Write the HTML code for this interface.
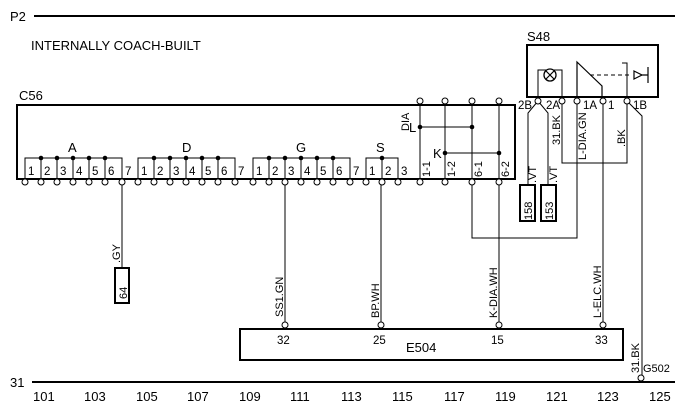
<!DOCTYPE html>
<html><head><style>
html,body{margin:0;padding:0;background:#fff;}
svg{display:block;}
text{font-family:"Liberation Sans",sans-serif;fill:#000;}
</style></head><body>
<svg width="675" height="408" viewBox="0 0 675 408" xmlns="http://www.w3.org/2000/svg">
<g stroke="#000" fill="none">
<line x1="34" y1="16" x2="675" y2="16" stroke-width="2"/>
<line x1="32" y1="382" x2="675" y2="382" stroke-width="2"/>
<rect x="17" y="105" width="498" height="74" stroke-width="2"/>
<path d="M25,179V158H122V179 M41,158V179 M57,158V179 M73,158V179 M89,158V179 M105,158V179" stroke-width="1"/>
<path d="M138,179V158H235V179 M154,158V179 M170,158V179 M186,158V179 M202,158V179 M218,158V179" stroke-width="1"/>
<path d="M253,179V158H350V179 M269,158V179 M285,158V179 M301,158V179 M317,158V179 M333,158V179" stroke-width="1"/>
<path d="M366,179V158H398V179 M382,158V179" stroke-width="1"/>
<path d="M420,101V179 M445,101V179 M472,101V179 M499,101V179 M420,127H472 M445,153H499" stroke-width="1"/>
<path d="M122,182V268 M285,182V325 M381,182V325 M499,182V325 M472,182V238H577V101 M603,101V325 M562,101V163H627V101 M538,101L528,113V185 M538,101L548,113V185 M627,101L642,116V377" stroke-width="1"/>
<rect x="115" y="268" width="14" height="35" stroke-width="2"/>
<rect x="520" y="185" width="15" height="36" stroke-width="2"/>
<rect x="541" y="185" width="15" height="36" stroke-width="2"/>
<rect x="240" y="329" width="383" height="31" stroke-width="2"/>
<rect x="527" y="45" width="131" height="52" stroke-width="2"/>
<path d="M538,97V70H562V97" stroke-width="1"/>
<circle cx="550" cy="75" r="6" fill="#fff" stroke-width="1.3"/>
<path d="M546,71L554,79M554,71L546,79" stroke-width="1.2"/>
<path d="M577,101V62L602,86V101" stroke-width="1.2"/>
<path d="M590,75H631" stroke-dasharray="4,3" stroke-width="1"/>
<path d="M622,63H627V101" stroke-width="1"/>
<path d="M634,71L642,75L634,79Z M642,75H648 M648,67V83" stroke-width="1.2"/>
</g>
<g fill="#000">
<circle cx="41" cy="158" r="2.3"/><circle cx="57" cy="158" r="2.3"/><circle cx="73" cy="158" r="2.3"/><circle cx="89" cy="158" r="2.3"/><circle cx="105" cy="158" r="2.3"/>
<circle cx="154" cy="158" r="2.3"/><circle cx="170" cy="158" r="2.3"/><circle cx="186" cy="158" r="2.3"/><circle cx="202" cy="158" r="2.3"/><circle cx="218" cy="158" r="2.3"/>
<circle cx="269" cy="158" r="2.3"/><circle cx="285" cy="158" r="2.3"/><circle cx="301" cy="158" r="2.3"/><circle cx="317" cy="158" r="2.3"/><circle cx="333" cy="158" r="2.3"/>
<circle cx="382" cy="158" r="2.3"/>
<circle cx="420" cy="127" r="2.3"/><circle cx="472" cy="127" r="2.3"/><circle cx="445" cy="153" r="2.3"/><circle cx="499" cy="153" r="2.3"/>
</g>
<g fill="#fff" stroke="#000" stroke-width="1">
<circle cx="25" cy="182" r="3"/><circle cx="41" cy="182" r="3"/><circle cx="57" cy="182" r="3"/><circle cx="73" cy="182" r="3"/><circle cx="89" cy="182" r="3"/><circle cx="105" cy="182" r="3"/><circle cx="122" cy="182" r="3"/>
<circle cx="138" cy="182" r="3"/><circle cx="154" cy="182" r="3"/><circle cx="170" cy="182" r="3"/><circle cx="186" cy="182" r="3"/><circle cx="202" cy="182" r="3"/><circle cx="218" cy="182" r="3"/><circle cx="235" cy="182" r="3"/>
<circle cx="253" cy="182" r="3"/><circle cx="269" cy="182" r="3"/><circle cx="285" cy="182" r="3"/><circle cx="301" cy="182" r="3"/><circle cx="317" cy="182" r="3"/><circle cx="333" cy="182" r="3"/><circle cx="350" cy="182" r="3"/>
<circle cx="366" cy="182" r="3"/><circle cx="382" cy="182" r="3"/><circle cx="398" cy="182" r="3"/>
<circle cx="420" cy="182" r="3"/><circle cx="445" cy="182" r="3"/><circle cx="472" cy="182" r="3"/><circle cx="499" cy="182" r="3"/>
<circle cx="420" cy="101" r="3"/><circle cx="445" cy="101" r="3"/><circle cx="472" cy="101" r="3"/><circle cx="499" cy="101" r="3"/>
<circle cx="538" cy="101" r="3"/><circle cx="562" cy="101" r="3"/><circle cx="577" cy="101" r="3"/><circle cx="603" cy="101" r="3"/><circle cx="627" cy="101" r="3"/>
<circle cx="285" cy="325" r="3"/><circle cx="381" cy="325" r="3"/><circle cx="499" cy="325" r="3"/><circle cx="603" cy="325" r="3"/>
<circle cx="641" cy="378" r="3"/>
</g>
<g font-size="13">
<text x="10" y="21">P2</text>
<text x="31" y="50">INTERNALLY COACH-BUILT</text>
<text x="19" y="100">C56</text>
<text x="527" y="41">S48</text>
<text x="10" y="387">31</text>
<text x="68" y="152">A</text><text x="182" y="152">D</text><text x="296" y="152">G</text><text x="376" y="152">S</text>
<text x="409" y="132">L</text><text x="433" y="158">K</text>
</g>
<g font-size="11.5">
<text x="28" y="175">1</text><text x="44" y="175">2</text><text x="60" y="175">3</text><text x="76" y="175">4</text><text x="92" y="175">5</text><text x="108" y="175">6</text><text x="125" y="175">7</text>
<text x="141" y="175">1</text><text x="157" y="175">2</text><text x="173" y="175">3</text><text x="189" y="175">4</text><text x="205" y="175">5</text><text x="221" y="175">6</text><text x="238" y="175">7</text>
<text x="256" y="175">1</text><text x="272" y="175">2</text><text x="288" y="175">3</text><text x="304" y="175">4</text><text x="320" y="175">5</text><text x="336" y="175">6</text><text x="353" y="175">7</text>
<text x="369" y="175">1</text><text x="385" y="175">2</text><text x="401" y="175">3</text>
<text x="518" y="109">2B</text><text x="546" y="109">2A</text><text x="583" y="109">1A</text><text x="608" y="109">1</text><text x="633" y="109">1B</text>
<text x="277" y="344">32</text><text x="373" y="344">25</text><text x="491" y="344">15</text><text x="595" y="344">33</text>
<text x="406" y="352" font-size="13">E504</text>
<text x="643" y="372" font-size="11">G502</text>
</g>
<g font-size="13">
<text x="33" y="401">101</text><text x="84" y="401">103</text><text x="136" y="401">105</text><text x="187" y="401">107</text><text x="239" y="401">109</text><text x="290" y="401">111</text><text x="341" y="401">113</text><text x="392" y="401">115</text><text x="444" y="401">117</text><text x="495" y="401">119</text><text x="546" y="401">121</text><text x="597" y="401">123</text><text x="649" y="401">125</text>
</g>
<g font-size="11">
<text transform="translate(409,131) rotate(-90)">DIA</text>
<text transform="translate(430,177) rotate(-90)">1-1</text>
<text transform="translate(455,177) rotate(-90)">1-2</text>
<text transform="translate(482,177) rotate(-90)">6-1</text>
<text transform="translate(509,177) rotate(-90)">6-2</text>
<text transform="translate(127,299) rotate(-90)">64</text>
<text transform="translate(532,220) rotate(-90)">158</text>
<text transform="translate(553,220) rotate(-90)">153</text>
<text transform="translate(120,263) rotate(-90)">.GY</text>
<text transform="translate(283,317) rotate(-90)">SS1.GN</text>
<text transform="translate(379,318) rotate(-90)">BP.WH</text>
<text transform="translate(497,318) rotate(-90)">K-DIA.WH</text>
<text transform="translate(601,318) rotate(-90)">L-ELC.WH</text>
<text transform="translate(639,373) rotate(-90)">31.BK</text>
<text transform="translate(536,183) rotate(-90)">.VT</text>
<text transform="translate(557,183) rotate(-90)">.VT</text>
<text transform="translate(560,145) rotate(-90)">31.BK</text>
<text transform="translate(586,160) rotate(-90)">L-DIA.GN</text>
<text transform="translate(625,147) rotate(-90)">.BK</text>
</g>
</svg>
</body></html>
